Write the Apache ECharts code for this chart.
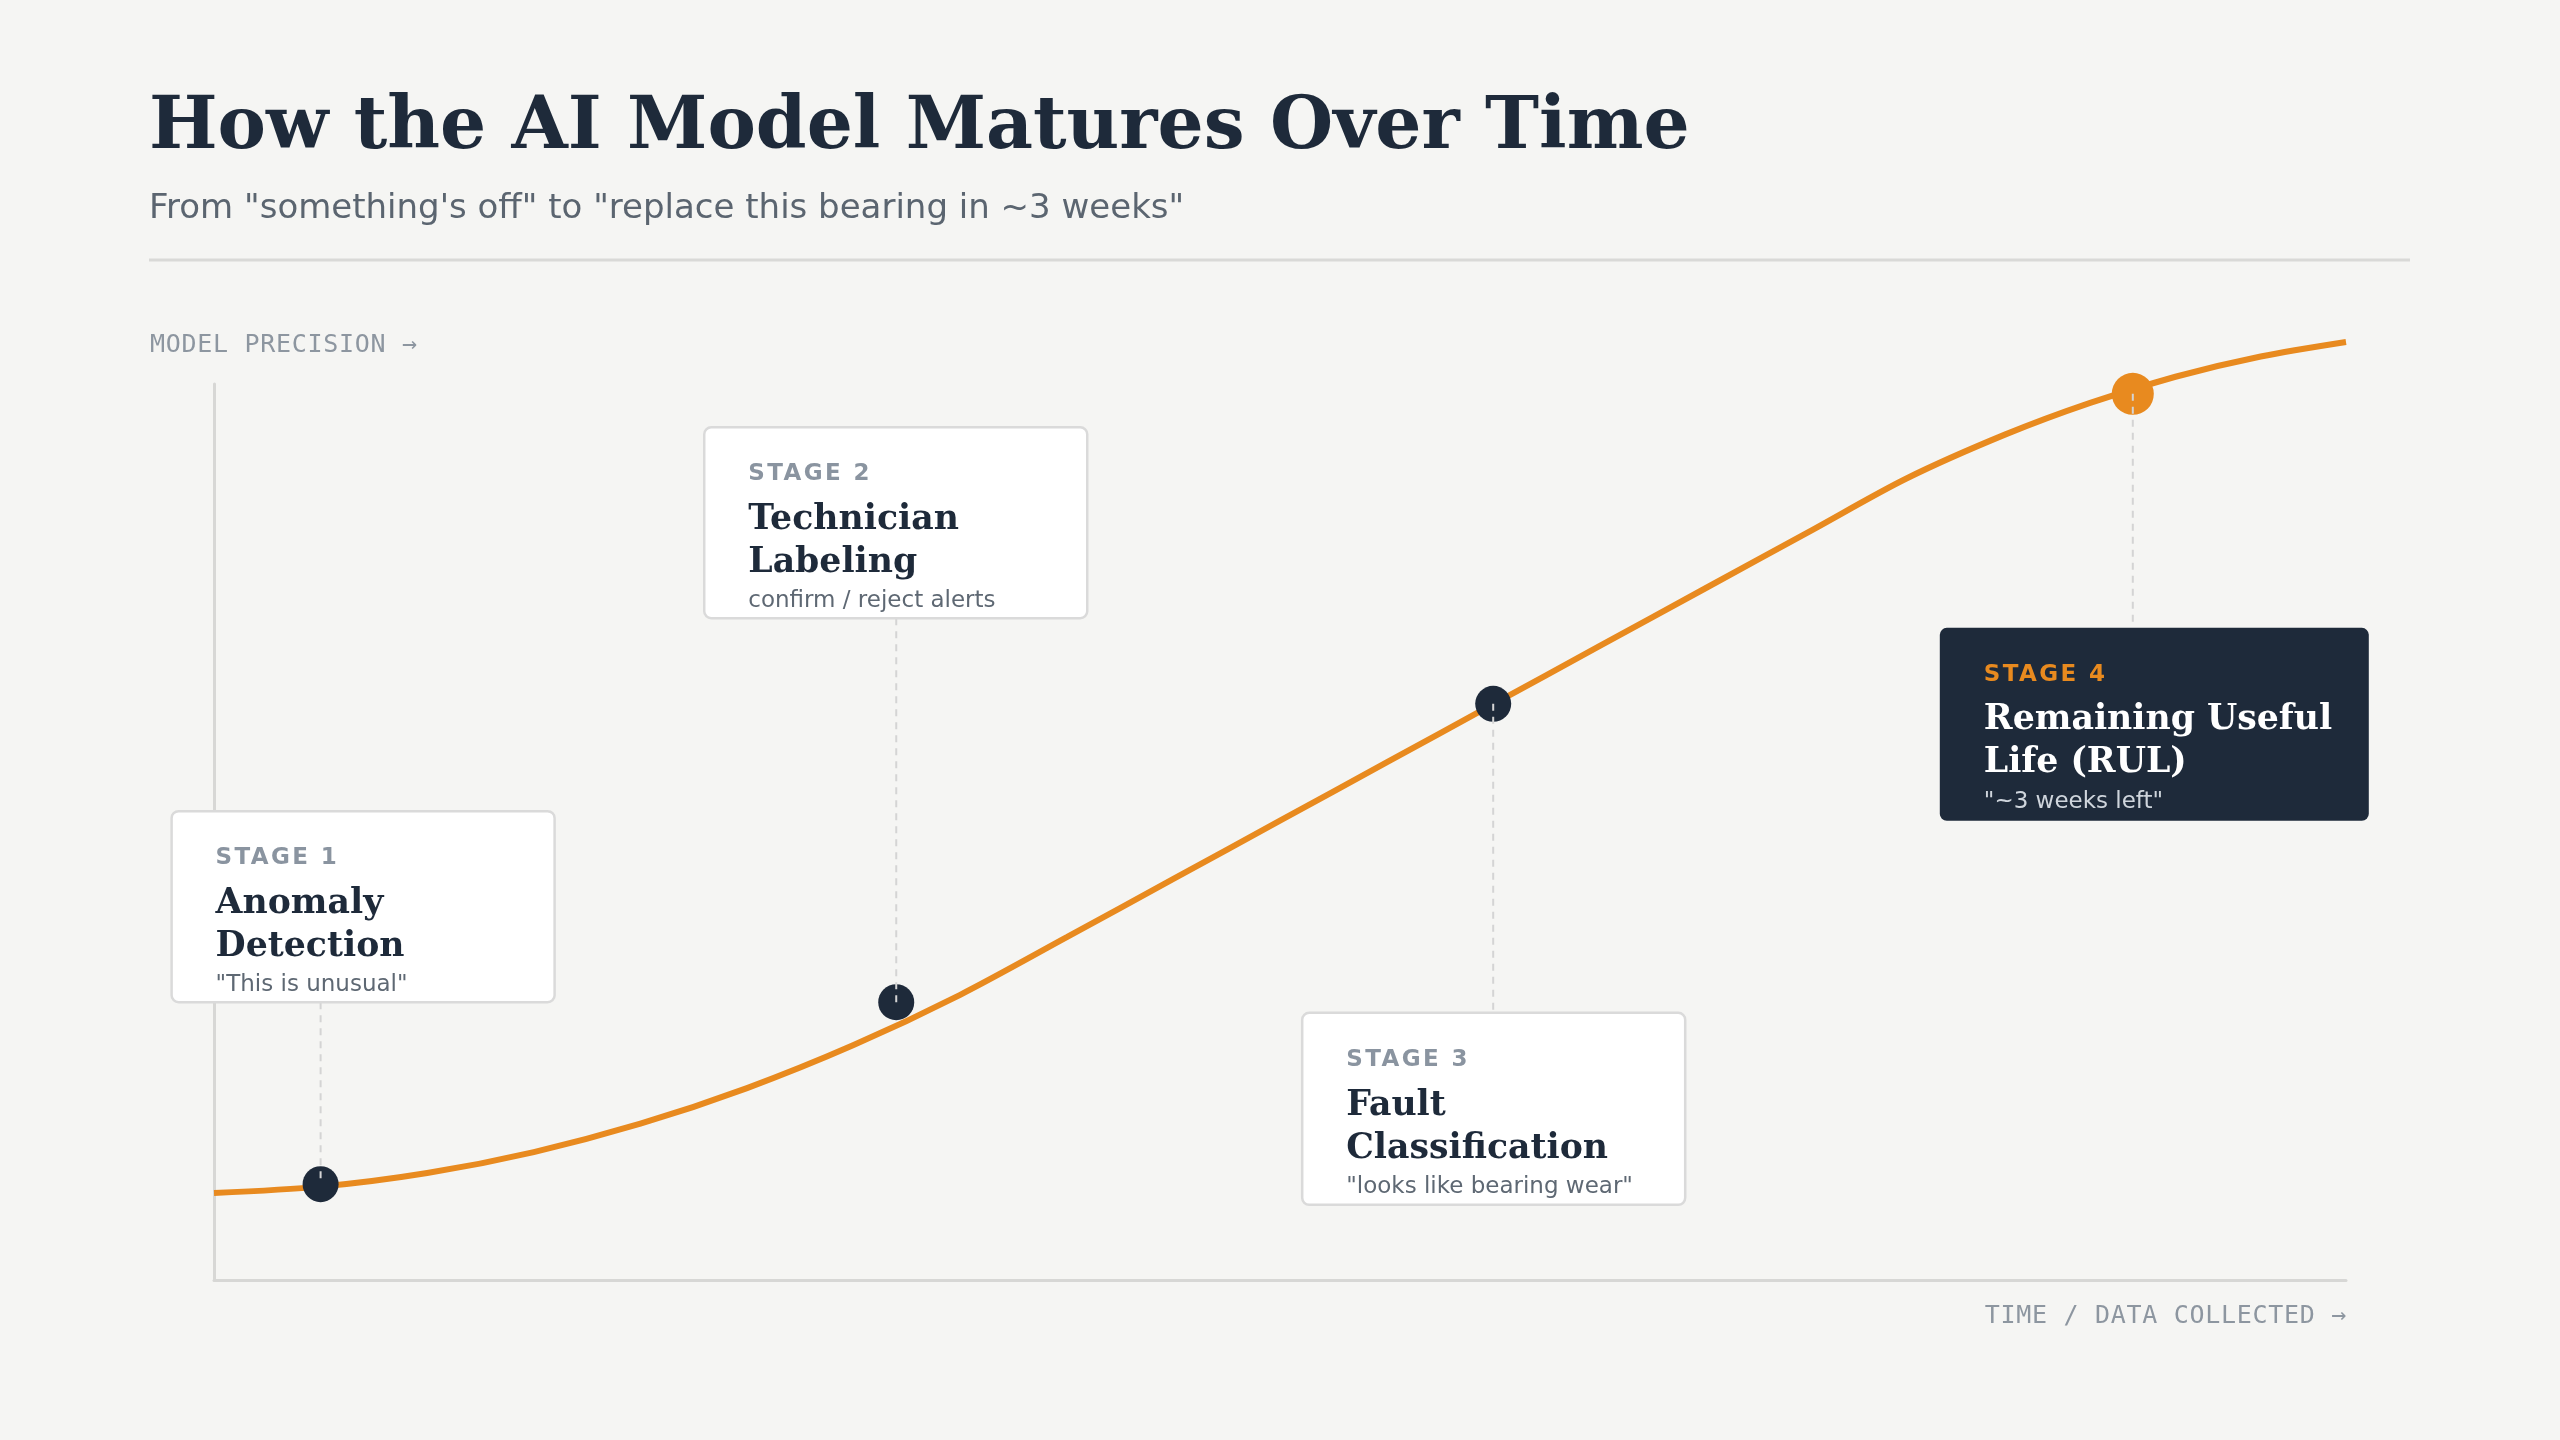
<!DOCTYPE html>
<html><head><meta charset="utf-8">
<script src="https://cdn.jsdelivr.net/npm/echarts@6/dist/echarts.min.js"></script>
<style>html,body{margin:0;padding:0;background:#f5f5f3;}#c{width:2560px;height:1440px;}</style>
</head><body><div id="c"></div>
<script>
// ---- data ----
const curveX = [0, 5, 10, 15, 20, 25, 30, 35, 40, 45, 50, 55, 60, 65, 70, 75, 79.36, 84, 88, 92, 96, 100];
const curveY = [9.71, 10.42, 11.94, 14.28, 17.44, 21.42, 26.22, 31.83, 38.26, 44.76, 51.26, 57.76, 64.26, 70.76, 77.26, 83.76, 89.43, 94.35, 97.9, 100.81, 103.07, 104.69];
const stageX = [5, 32, 60, 90];
const stageY = [10.7, 31.0, 64.3, 98.9];
const stageLabels = ['STAGE 1', 'STAGE 2', 'STAGE 3', 'STAGE 4'];
const stageTitles = [['Anomaly', 'Detection'], ['Technician', 'Labeling'], ['Fault', 'Classification'], ['Remaining Useful', 'Life (RUL)']];
const stageNotes = ['"This is unusual"', 'confirm / reject alerts', '"looks like bearing wear"', '"~3 weeks left"'];
const titleText = 'How the AI Model Matures Over Time';
const subtitleText = 'From "something\'s off" to "replace this bearing in ~3 weeks"';
const yAxisTitle = 'MODEL PRECISION \u2192';
const xAxisTitle = 'TIME / DATA COLLECTED \u2192';

// ---- letter spacing for tracked labels (canvas letterSpacing, keyed by font size) ----
(function () {
  const proto = CanvasRenderingContext2D.prototype;
  const orig = proto.fillText;
  const tracking = { '23.01px': '2.4px', '25.01px': '0.7px' };
  proto.fillText = function (t, x, y, w) {
    let sp = '0px';
    for (const k in tracking) { if (this.font.indexOf(k) >= 0) sp = tracking[k]; }
    if ('letterSpacing' in this) this.letterSpacing = sp;
    const r = w === undefined ? orig.call(this, t, x, y) : orig.call(this, t, x, y, w);
    if ('letterSpacing' in this) this.letterSpacing = '0px';
    return r;
  };
})();

// ---- styling / layout ----
const NAVY = '#1e2a3a', ORANGE = '#e88a1f', BG = '#f5f5f3';
const K = 0.27; // baseline offset factor
const boxLayout = [
  { dx: -149, dy: -373, w: 383, h: 191, below: false, dark: false },
  { dx: -192, dy: -575, w: 383, h: 191, below: false, dark: false },
  { dx: -191, dy: 309, w: 383, h: 192, below: true, dark: false },
  { dx: -193, dy: 234, w: 429, h: 193, below: true, dark: true }
];

const chart = echarts.init(document.getElementById('c'));
const monoStyle = { fontFamily: 'DejaVu Sans Mono', fontSize: 25.01, color: '#8d96a0', fontWeight: 'normal', lineHeight: 25 };
const axisCommon = {
  type: 'value', min: 0, max: 100,
  axisLine: { show: true, lineStyle: { color: '#d7d7d5', width: 3 } },
  axisTick: { show: false }, axisLabel: { show: false }, splitLine: { show: false }
};
chart.setOption({
  backgroundColor: BG,
  animation: false,
  title: [
    { text: titleText, left: 149, top: 149 - (0.5 + K) * 72.6, padding: 0,
      textStyle: { fontFamily: 'DejaVu Serif', fontWeight: 'bold', fontSize: 72.6, color: NAVY, lineHeight: 72.6 } },
    { text: subtitleText, left: 149, top: 218 - (0.5 + K) * 34, padding: 0,
      textStyle: { fontFamily: 'DejaVu Sans', fontWeight: 'normal', fontSize: 34, color: '#5b6570', lineHeight: 34 } },
    { text: yAxisTitle, left: 150, top: 352 - (0.5 + K) * 25, padding: 0, textStyle: monoStyle },
    { text: xAxisTitle, right: 229, top: 1323 - (0.5 + K) * 25, padding: 0, textStyle: monoStyle }
  ],
  grid: { left: 214, right: 214, top: 384, bottom: 160 },
  xAxis: axisCommon,
  yAxis: axisCommon,
  series: [
    { type: 'line', data: curveX.map((x, i) => [x, curveY[i]]), smooth: 0.3,
      symbol: 'none', clip: false, lineStyle: { color: ORANGE, width: 6 }, z: 2 },
    { type: 'scatter', data: stageX.map((x, i) => [x, stageY[i]]), clip: false,
      symbolSize: (v, p) => p.dataIndex === 3 ? 42 : 36,
      itemStyle: { color: p => p.dataIndex === 3 ? ORANGE : NAVY, opacity: 1 }, z: 3 }
  ]
});

// ---- annotation boxes ----
function txt(x, baseline, text, size, family, weight, color) {
  return { type: 'text', x: x, y: baseline - K * size, z: 20,
    style: { text: text, fontSize: size, fontFamily: family, fontWeight: weight, fill: color, align: 'left', verticalAlign: 'middle' } };
}
const els = [
  { type: 'line', z: 5, shape: { x1: 149, y1: 260, x2: 2410, y2: 260 }, style: { stroke: '#d9d9d7', lineWidth: 3 } }
];
stageX.forEach((sx, i) => {
  const p = chart.convertToPixel({ gridIndex: 0 }, [sx, stageY[i]]);
  const L = boxLayout[i];
  const left = p[0] + L.dx, top = p[1] + L.dy;
  const y1 = L.below ? p[1] : top + L.h;
  const y2 = L.below ? top : p[1];
  els.push({ type: 'line', z: 15, shape: { x1: p[0], y1: y1, x2: p[0], y2: y2 },
    style: { stroke: '#d4d4d4', lineWidth: 2, lineDash: [7, 6] } });
  els.push({ type: 'rect', z: 16, shape: { x: left, y: top, width: L.w, height: L.h, r: 7 },
    style: L.dark ? { fill: NAVY } : { fill: '#ffffff', stroke: '#dadada', lineWidth: 2.5 } });
  const tx = left + 44;
  els.push(txt(tx, top + 53, stageLabels[i], 23.01, 'DejaVu Sans', 'bold', L.dark ? ORANGE : '#8a94a0'));
  els.push(txt(tx, top + 102, stageTitles[i][0], 34.7, 'DejaVu Serif', 'bold', L.dark ? '#ffffff' : NAVY));
  els.push(txt(tx, top + 145, stageTitles[i][1], 34.7, 'DejaVu Serif', 'bold', L.dark ? '#ffffff' : NAVY));
  els.push(txt(tx, top + 180, stageNotes[i], 23, 'DejaVu Sans', 'normal', L.dark ? '#cfd5dc' : '#5e6873'));
});
chart.setOption({ graphic: { elements: els } });
</script>
</body></html>
